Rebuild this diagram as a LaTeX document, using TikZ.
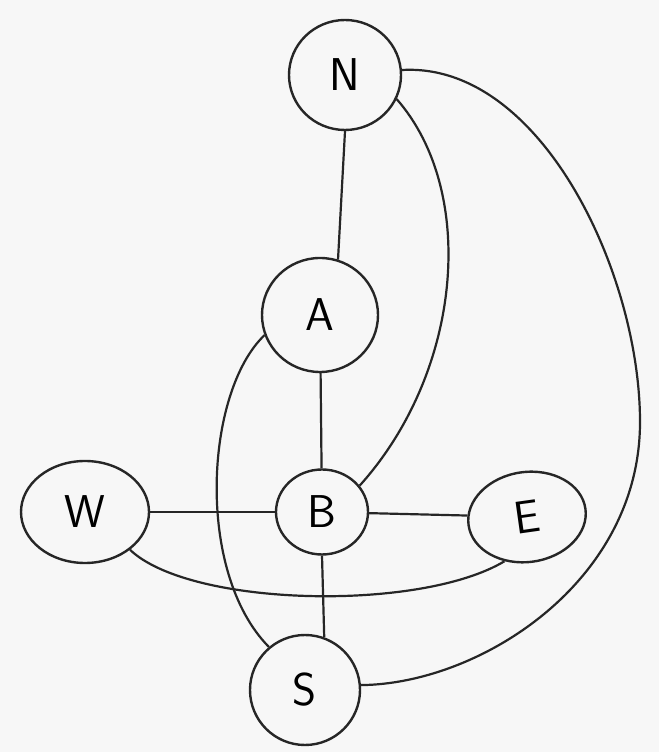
\documentclass[tikz,border=0pt]{standalone}
\usetikzlibrary{shapes.geometric}
\begin{document}
\begin{tikzpicture}[x=1pt,y=1pt,
  vert/.style={draw=black!85, ellipse, line width=2.4pt, inner sep=0pt, font=\fontsize{46}{50}\selectfont\sffamily},
  edge/.style={draw=black!85, line width=2.2pt}]
\fill[black!3] (0,0) rectangle (659,752);
\useasboundingbox (0,0) rectangle (659,752);
\node[vert, minimum width=112pt, minimum height=110pt] (N) at (345,677) {N};
\node[vert, minimum width=116pt, minimum height=114pt] (A) at (320,437) {A};
\node[vert, minimum width=92pt, minimum height=85pt] (B) at (322,240) {B};
\node[vert, minimum width=128pt, minimum height=102pt] (W) at (85,240) {W};
\node[vert, minimum width=118pt, minimum height=90pt, rotate=8] (E) at (527,235) {E};
\node[vert, minimum width=110pt, minimum height=110pt] (S) at (305,62) {S};
\draw[edge] (N.south) -- (A.72);
\draw[edge] (A) -- (B);
\draw[edge] (B.south) -- (S.70);
\draw[edge] (W) -- (B);
\draw[edge] (B) -- (E);
\draw[edge] (N.-25) .. controls (478,560) and (462,380) .. (B.35);
\draw[edge] (N.5) .. controls (540,690) and (640,480) .. (640,330) .. controls (640,170) and (480,68) .. (S.5);
\draw[edge] (A.200) .. controls (205,360) and (195,180) .. (S.130);
\draw[edge] (W.-40) .. controls (190,145) and (420,140) .. (E.235);
\end{tikzpicture}
\end{document}
